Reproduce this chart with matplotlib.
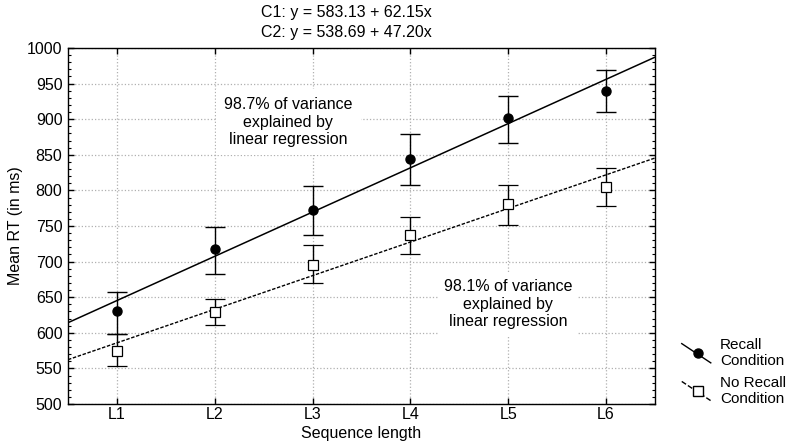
import numpy as np
import matplotlib
matplotlib.use("Agg")
import matplotlib.pyplot as plt
from matplotlib.lines import Line2D
from matplotlib.legend_handler import HandlerBase
from matplotlib.ticker import MultipleLocator

plt.rcParams['font.family'] = ['Liberation Sans', 'DejaVu Sans']
plt.rcParams['font.size'] = 11.5

levels = ['L1', 'L2', 'L3', 'L4', 'L5', 'L6']
recall_mean = [630, 717, 773, 844, 901, 940]
recall_lo = [598, 683, 738, 808, 866, 910]
recall_hi = [657, 749, 806, 879, 933, 969]
norecall_mean = [575, 629, 695, 738, 781, 805]
norecall_lo = [553, 611, 670, 710, 752, 778]
norecall_hi = [598, 648, 723, 762, 808, 831]
c1_coef = (583.13, 62.15)
c2_coef = (538.69, 47.20)
r2_text = ["98.7% of variance\nexplained by\nlinear regression",
           "98.1% of variance\nexplained by\nlinear regression"]

x = np.arange(1, len(levels) + 1)

fig = plt.figure(figsize=(7.92, 4.45), dpi=100)
ax = fig.add_axes([68/792, 1 - 404/445, (655-68)/792, (404-48)/445])

ax.set_xlim(0.5, 6.5)
ax.set_ylim(500, 1000)
ax.grid(True, color='#b0b0b0', linestyle=':', linewidth=0.9)
ax.set_axisbelow(True)

# regression lines
xl = np.array([0.5, 6.5])
ax.plot(xl, c1_coef[0] + c1_coef[1]*xl, color='black', lw=1.1, zorder=2)
ax.plot(xl, c2_coef[0] + c2_coef[1]*xl, color='black', lw=1.0, ls=(0, (2.5, 1.2)), zorder=2)

rm = np.array(recall_mean)
nm = np.array(norecall_mean)
ax.errorbar(x, rm, yerr=[rm - np.array(recall_lo), np.array(recall_hi) - rm],
            fmt='o', color='black', ms=6.5, capsize=7, elinewidth=1, capthick=1, zorder=3)
ax.errorbar(x, nm, yerr=[nm - np.array(norecall_lo), np.array(norecall_hi) - nm],
            fmt='s', color='black', mfc='white', mec='black', ms=6.5, mew=0.9,
            capsize=7, elinewidth=1, capthick=1, zorder=3)

ax.set_xticks(x)
ax.set_xticklabels(levels)
ax.yaxis.set_major_locator(MultipleLocator(50))
ax.yaxis.set_minor_locator(MultipleLocator(10))
ax.tick_params(axis='both', direction='in', top=True, right=True, length=4, width=1)
ax.tick_params(axis='y', which='minor', direction='in', right=True, length=2.5, width=0.8)
ax.tick_params(axis='x', pad=2)
ax.tick_params(axis='y', pad=4)
for s in ax.spines.values():
    s.set_linewidth(1)

ax.set_xlabel('Sequence length', labelpad=3)
ax.set_ylabel('Mean RT (in ms)', labelpad=3)

ax.text(2.75, 896, r2_text[0], ha='center', va='center', linespacing=1.2,
        bbox=dict(facecolor='white', edgecolor='none', pad=6), zorder=4)
ax.text(5.0, 640, r2_text[1], ha='center', va='center', linespacing=1.2,
        bbox=dict(facecolor='white', edgecolor='none', pad=4), zorder=4)

fig.text(346/792, 1 - 13/445, "C1: y = 583.13 + 62.15x", ha='center', va='center')
fig.text(346/792, 1 - 33/445, "C2: y = 538.69 + 47.20x", ha='center', va='center')


class DiagHandler(HandlerBase):
    def create_artists(self, legend, orig, xd, yd, w, h, fontsize, trans):
        ln = Line2D([xd, xd + w], [yd + h*1.4, yd - h*0.4], color='black',
                    lw=1, ls=orig.get_linestyle(), transform=trans)
        mk = Line2D([xd + w*0.55], [yd + h/2], marker=orig.get_marker(), color='black',
                    mfc=orig.get_markerfacecolor(), mec='black', ms=orig.get_markersize(),
                    ls='none', transform=trans)
        return [ln, mk]


h1 = Line2D([], [], color='black', marker='o', ms=6.5, ls='-')
h2 = Line2D([], [], color='black', marker='s', mfc='white', ms=6.5, ls=(0, (2, 1)))
fig.legend([h1, h2], ['Recall\nCondition', 'No Recall\nCondition'],
           handler_map={h1: DiagHandler(), h2: DiagHandler()},
           loc='center left', bbox_to_anchor=(668/792, 1 - 372/445), frameon=False,
           handlelength=1.9, handletextpad=0.6, labelspacing=0.5, fontsize=11)

fig.savefig('out.png', dpi=100)
